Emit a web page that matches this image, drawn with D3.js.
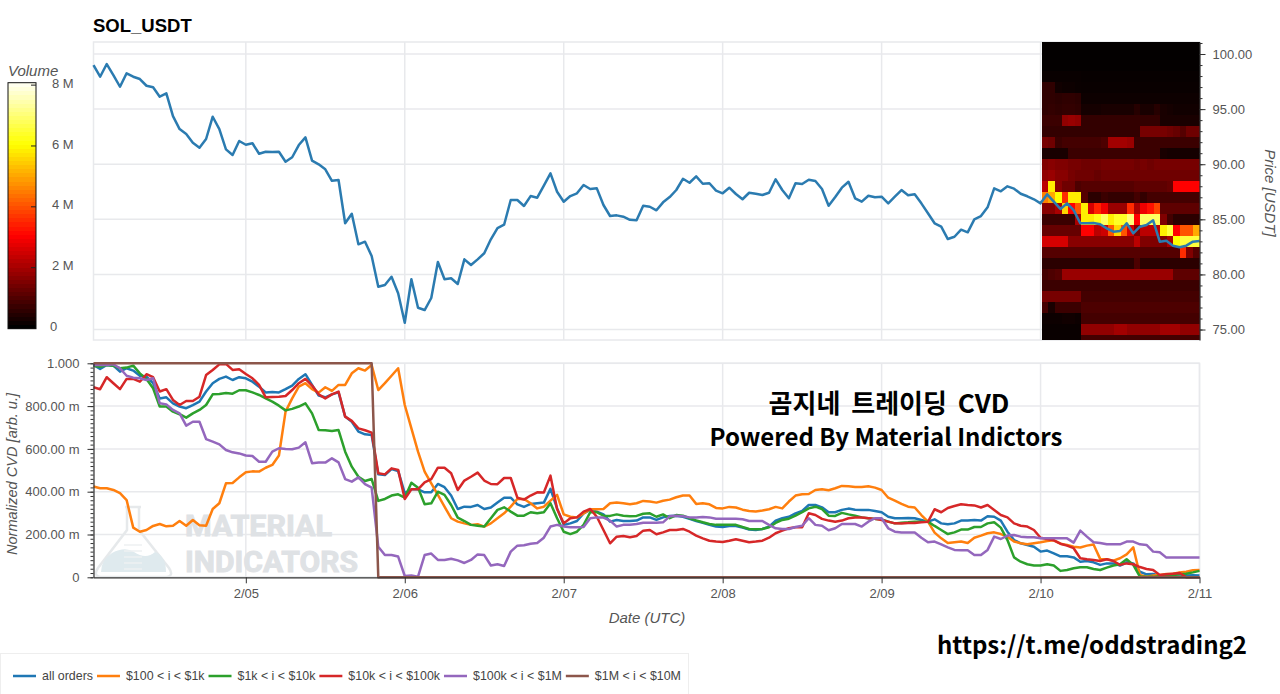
<!DOCTYPE html>
<html>
<head>
<meta charset="utf-8">
<script src="https://cdn.jsdelivr.net/npm/d3@7"></script>
<style>
  body { margin: 0; background: #fff; }
  text { font-family: "Liberation Sans", Arial, sans-serif; }
  .tick text { font-size: 13px; fill: #555; }
  .axis-title { font-size: 15px; font-style: italic; fill: #555; }
  .overlay { font-family: "Noto Sans CJK KR", "Noto Sans", sans-serif; font-weight: 700; fill: #000; }
</style>
</head>
<body>
<svg id="chart" width="1280" height="694"></svg>
<script>
// hourly samples, first one is 2/04 01:00 UTC
const price = [99.00,97.94,99.09,98.09,97.03,98.25,97.94,97.73,97.12,96.98,96.13,96.43,94.37,93.19,92.74,91.95,91.50,92.29,94.31,93.19,91.35,90.84,92.11,91.77,
  91.90,90.95,91.13,91.11,91.13,90.23,90.63,91.74,92.44,90.32,89.99,89.54,88.50,88.57,84.64,85.51,82.73,82.97,81.67,78.88,79.04,79.79,78.29,75.62,
  79.56,76.98,76.77,77.86,81.13,79.56,79.65,79.13,81.37,80.85,81.37,81.92,83.19,84.21,84.51,86.75,86.75,86.21,87.11,86.96,88.05,89.17,87.50,86.60,
  87.11,87.36,88.11,87.75,87.81,86.30,85.30,85.36,85.24,84.96,84.91,86.23,86.14,85.82,86.54,87.02,87.66,88.68,88.32,88.90,88.23,88.27,87.60,87.36,
  87.87,87.30,86.82,87.41,87.32,87.21,87.41,88.63,87.66,86.91,88.27,88.20,88.59,88.48,87.75,86.23,87.02,87.87,88.41,86.91,86.60,87.14,87.00,87.05,
  86.45,87.05,87.66,87.18,87.27,86.45,85.55,84.64,84.33,83.21,83.42,84.06,83.82,85.00,85.30,86.09,87.81,87.54,87.99,87.78,87.32,87.09,86.82,86.45,
  87.27,86.60,85.94,86.45,85.84,84.64,84.64,84.67,84.55,84.18,83.88,83.94,84.64,83.73,84.33,84.48,84.91,82.97,83.06,82.61,82.46,82.61,82.97,83.03];

const allOrders = [.992,.974,.992,.989,.961,.977,.966,.942,.938,.907,.836,.841,.813,.798,.790,.805,.821,.868,.907,.927,.938,.922,.935,.930,
  .914,.891,.864,.866,.864,.879,.896,.927,.949,.899,.849,.841,.855,.864,.751,.727,.681,.668,.665,.481,.478,.506,.497,.393,
  .411,.411,.397,.397,.436,.421,.382,.319,.330,.329,.338,.319,.326,.350,.372,.372,.341,.329,.343,.346,.349,.413,.322,.245,
  .252,.263,.299,.315,.307,.294,.260,.268,.263,.263,.265,.280,.280,.268,.280,.287,.288,.283,.273,.263,.255,.245,.237,.235,
  .240,.240,.232,.223,.221,.226,.237,.265,.276,.283,.299,.310,.338,.338,.327,.304,.304,.315,.321,.316,.315,.315,.310,.304,
  .283,.276,.276,.277,.276,.268,.260,.271,.252,.248,.252,.265,.265,.268,.265,.285,.283,.265,.213,.174,.159,.151,.143,.120,
  .125,.112,.098,.098,.093,.073,.076,.070,.058,.065,.065,.055,.070,.065,.026,.014,.016,.008,.011,.011,.014,.008,.009,.008];

const size100to1k = [.424,.416,.416,.408,.393,.361,.232,.213,.221,.240,.249,.238,.241,.263,.241,.268,.243,.241,.319,.346,.439,.441,.467,.491,
  .495,.494,.512,.525,.569,.774,.836,.891,.907,.879,.863,.888,.871,.899,.899,.953,.977,.966,.992,.875,.907,.942,.977,.805,
  .696,.587,.494,.439,.385,.330,.276,.260,.252,.245,.248,.237,.252,.276,.299,.330,.366,.366,.346,.322,.330,.358,.385,.294,
  .283,.280,.299,.318,.318,.319,.346,.349,.346,.341,.346,.357,.354,.349,.358,.363,.374,.382,.382,.343,.346,.341,.324,.322,
  .329,.326,.316,.310,.308,.312,.318,.329,.322,.354,.382,.388,.389,.408,.411,.407,.416,.427,.425,.422,.422,.425,.419,.408,
  .372,.358,.343,.330,.326,.291,.260,.209,.182,.160,.164,.167,.160,.185,.195,.206,.210,.202,.190,.167,.159,.154,.159,.164,
  .170,.173,.157,.151,.143,.139,.148,.153,.086,.084,.078,.089,.107,.140,.011,.003,.008,.011,.016,.017,.022,.026,.033,.034];

const size1kto10k = [.989,.984,.992,.988,.977,.980,.989,.953,.927,.883,.798,.798,.774,.762,.746,.766,.782,.805,.855,.857,.861,.858,.874,.874,
  .864,.852,.836,.821,.802,.780,.787,.798,.813,.766,.688,.687,.684,.688,.587,.517,.470,.450,.459,.357,.366,.382,.388,.372,
  .442,.419,.341,.346,.400,.385,.338,.279,.263,.245,.241,.237,.276,.315,.327,.307,.288,.288,.304,.299,.304,.346,.276,.213,
  .202,.213,.245,.304,.304,.288,.287,.294,.288,.285,.287,.297,.299,.283,.294,.276,.291,.288,.276,.266,.257,.249,.245,.245,
  .245,.245,.235,.226,.224,.226,.234,.254,.268,.274,.288,.304,.322,.330,.319,.288,.287,.301,.294,.288,.280,.276,.273,.271,
  .260,.252,.255,.257,.260,.260,.260,.240,.221,.202,.210,.223,.223,.235,.235,.252,.257,.232,.174,.093,.073,.061,.055,.055,
  .061,.055,.030,.034,.042,.047,.047,.039,.034,.045,.055,.061,.084,.058,.003,.003,.002,.005,.008,.011,.014,.017,.023,.030];

const size10kto100k = [.888,.879,.935,.907,.879,.927,.927,.914,.949,.935,.868,.879,.829,.805,.824,.824,.844,.945,.969,.995,.997,.969,.972,.950,
  .930,.899,.841,.843,.844,.847,.875,.907,.927,.896,.855,.836,.855,.868,.751,.731,.696,.687,.676,.486,.481,.509,.502,.366,
  .411,.411,.444,.459,.512,.512,.486,.408,.452,.470,.489,.452,.436,.435,.464,.464,.372,.363,.382,.397,.396,.475,.319,.252,
  .276,.280,.307,.319,.283,.221,.159,.190,.193,.187,.193,.218,.221,.201,.210,.221,.221,.226,.213,.195,.182,.171,.167,.165,
  .171,.178,.171,.164,.167,.171,.185,.206,.218,.229,.234,.234,.299,.291,.273,.265,.260,.265,.276,.279,.279,.276,.273,.268,
  .260,.252,.251,.254,.254,.257,.259,.318,.304,.324,.333,.341,.338,.336,.326,.338,.315,.291,.280,.252,.241,.237,.221,.185,
  .179,.173,.157,.148,.136,.089,.084,.081,.076,.084,.076,.058,.065,.061,.048,.039,.034,.011,.014,.017,.020,0,0,0];

const size100kto1M = [.992,.992,.992,.995,.977,.942,.933,.930,.922,.930,.813,.808,.782,.766,.709,.727,.727,.646,.634,.621,.595,.584,.579,.569,
  .567,.540,.540,.587,.603,.600,.598,.606,.631,.533,.536,.536,.556,.537,.459,.447,.467,.435,.419,.143,.104,.104,.097,.006,
  .008,.003,.104,.111,.081,.081,.087,.079,.067,.081,.107,.104,.055,.061,.053,.120,.148,.150,.157,.160,.185,.237,.245,.237,
  .234,.234,.235,.276,.280,.279,.265,.237,.245,.246,.249,.255,.255,.255,.257,.285,.288,.285,.280,.280,.282,.280,.274,.274,
  .274,.274,.271,.263,.263,.263,.245,.229,.226,.226,.235,.241,.276,.245,.241,.220,.229,.249,.249,.249,.237,.260,.276,.276,
  .229,.213,.209,.209,.209,.185,.164,.167,.154,.140,.128,.126,.126,.104,.104,.128,.190,.179,.195,.198,.190,.187,.187,.182,
  .182,.182,.182,.182,.162,.218,.190,.164,.160,.154,.154,.154,.167,.167,.154,.151,.120,.117,.092,.092,.092,.092,.092,.092];

const size1Mto10M = [1,1,1,1,1,1,1,1,1,1,1,1,1,1,1,1,1,1,1,1,1,1,1,1,
  1,1,1,1,1,1,1,1,1,1,1,1,1,1,1,1,1,1,1,0,0,0,0,0,
  0,0,0,0,0,0,0,0,0,0,0,0,0,0,0,0,0,0,0,0,0,0,0,0,
  0,0,0,0,0,0,0,0,0,0,0,0,0,0,0,0,0,0,0,0,0,0,0,0,
  0,0,0,0,0,0,0,0,0,0,0,0,0,0,0,0,0,0,0,0,0,0,0,0,
  0,0,0,0,0,0,0,0,0,0,0,0,0,0,0,0,0,0,0,0,0,0,0,0,
  0,0,0,0,0,0,0,0,0,0,0,0,0,0,0,0,0,0,0,0,0,0,0,0];

const seriesNames = ["all orders", "$100 < i < $1k", "$1k < i < $10k", "$10k < i < $100k", "$100k < i < $1M", "$1M < i < $10M"];
const seriesValues = [allOrders, size100to1k, size1kto10k, size10kto100k, size100kto1M, size1Mto10M];
const seriesColors = ["#1f77b4", "#ff7f0e", "#2ca02c", "#d62728", "#9467bd", "#8c564b"];

// resting volume in millions, one row per $1 price bin, one column per hour of 2/10
const heatPrices = [101,100,99,98,97,96,95,94,93,92,91,90,89,88,87,86,85,84,83,82,81,80,79,78,77,76,75,74];
const heatVolume = [
  [.03,.03,.03,.03,.03,.03,.03,.03,.03,.03,.03,.03,.03,.03,.03,.03,.03,.03,.03,.03,.03,.03,.03,.03],
  [.04,.04,.04,.04,.04,.04,.04,.04,.04,.04,.04,.04,.04,.04,.04,.04,.04,.04,.04,.04,.04,.04,.04,.04],
  [.05,.05,.05,.05,.05,.05,.05,.05,.05,.05,.05,.05,.05,.05,.05,.05,.05,.05,.05,.05,.05,.05,.05,.05],
  [.1,.1,.1,.1,.1,.1,.08,.08,.08,.08,.08,.08,.08,.08,.08,.08,.08,.08,.08,.08,.08,.08,.08,.08],
  [.55,.55,.2,.15,.15,.12,.1,.1,.1,.1,.1,.1,.1,.1,.1,.1,.1,.1,.1,.1,.1,.1,.1,.1],
  [.55,.55,.5,.55,.55,.5,.15,.15,.15,.15,.15,.15,.15,.15,.15,.15,.15,.15,.15,.15,.15,.15,.15,.15],
  [.55,.6,.55,.6,.6,.55,.25,.25,.25,.3,.3,.3,.3,.3,.45,.3,.3,.45,.3,.25,.2,.2,.2,.2],
  [.7,.7,.7,1.7,1.8,1.7,.6,.6,.6,.6,.6,.6,.6,.6,.6,.6,.6,.6,.3,.3,.3,.3,.3,.3],
  [.6,.6,.6,.6,.6,.6,.6,.6,.6,.6,.6,.6,.6,.6,.6,1.4,1.4,1.4,1.4,1.3,1.2,1.0,1.3,1.3],
  [1.4,1.3,.7,.8,.8,.8,.8,.8,.8,.9,1.9,1.9,1.9,1.8,.7,.7,.7,.7,.7,.7,.7,.7,.7,.7],
  [.3,.3,.3,.3,.7,.7,.7,.7,.7,.7,.7,.7,.7,.7,.7,.7,.7,.7,.3,.25,.25,.25,.25,.25],
  [1.5,1.6,1.5,1.5,1.4,1.4,1.3,1.3,1.3,1.4,1.4,1.4,1.4,1.4,1.3,1.4,1.3,1.4,1.4,1.4,1.4,1.4,1.4,1.4],
  [1.7,1.8,1.6,1.6,1.4,1.3,1.3,1.3,1.2,1.3,1.3,1.3,1.3,1.3,1.3,1.3,1.3,1.3,1.3,1.3,1.3,1.3,1.3,1.3],
  [2.2,5.8,1.6,1.3,1.3,.9,1.0,1.0,1.0,1.0,1.0,1.0,1.0,1.0,1.1,1.1,1.1,1.1,1.1,1.2,3.0,3.0,3.0,3.0],
  [4.5,5.0,6.0,3.5,5.8,5.8,1.0,.5,.5,.7,.6,.6,.6,.6,.8,.6,.8,.8,.8,.8,.8,.8,.8,.8],
  [1.6,1.6,2.0,5.5,3.0,4.0,5.8,2.5,3.4,2.8,1.8,1.8,1.8,3.5,2.0,2.8,3.2,3.8,1.1,1.1,1.1,1.1,1.1,1.1],
  [.7,.7,.7,.7,.7,2.0,5.8,5.8,6.2,6.8,5.8,6.3,6.3,7.0,3.0,6.8,6.8,6.8,1.5,.8,.5,.5,.5,.5],
  [1.2,1.2,1.2,1.2,1.2,1.2,3.0,3.0,2.2,2.4,4.0,5.5,4.0,2.5,1.5,2.2,2.2,2.2,5.8,6.5,3.0,4.0,4.0,5.0],
  [2.5,2.5,2.5,2.5,1.6,1.6,1.6,1.6,1.6,1.6,1.6,1.6,1.6,1.6,2.2,1.5,1.5,1.5,1.5,2.0,6.0,6.5,6.5,6.5],
  [1.0,1.0,1.0,1.0,1.0,1.0,1.0,1.0,1.0,1.0,1.0,1.0,1.0,1.0,1.0,1.0,1.0,1.0,1.0,1.0,1.0,3.5,1.5,1.0],
  [.5,.5,.5,.5,.5,.5,.5,.5,.5,.5,.5,.5,.5,.5,.9,.5,.5,.5,.5,.5,.5,.5,.5,.5],
  [.8,.9,1.0,1.8,1.8,1.8,1.8,1.8,1.8,1.8,1.8,1.8,1.8,1.8,1.8,1.8,1.8,1.8,1.8,1.8,1.1,1.1,1.1,1.1],
  [.7,.7,.7,.7,.7,.7,.7,.7,.7,.7,.7,.7,.7,.7,.7,.7,.7,.7,.7,.7,.7,.7,.7,.7],
  [1.4,1.4,1.4,1.4,1.4,1.4,.8,.8,.8,.8,.8,.8,.8,.8,.8,.8,.8,.8,.8,.8,.8,.8,.8,.8],
  [.8,.3,.7,.7,.7,.7,.9,.9,.9,.9,.9,.9,.9,.9,.9,.9,.9,.9,.9,.9,.9,.9,.9,.9],
  [.15,.15,.15,.2,.2,.15,.8,.8,.8,.8,.8,.8,.8,.8,.8,.8,.8,.8,.8,.8,.8,.8,.8,.8],
  [.1,.1,.1,.1,.1,.1,1.7,1.7,1.7,1.7,1.7,1.9,1.9,1.7,1.7,1.7,1.7,1.7,1.9,1.9,1.9,1.7,1.7,1.7],
  [.1,.1,.1,.1,.1,.1,.8,.8,.8,.8,.8,.8,.8,.8,.8,.8,.8,.8,.8,.8,.8,.8,.8,.8]
];

const priceTicks = [100, 95, 90, 85, 80, 75];
const cvdTicks = [1, .8, .6, .4, .2, 0];
const cvdTickLabels = ["1.000", "800.00 m", "600.00 m", "400.00 m", "200.00 m", "0"];
const dateTicks = ["2/05", "2/06", "2/07", "2/08", "2/09", "2/10", "2/11"];
const volumeTicks = [0, 2, 4, 6, 8];
const volumeTickLabels = ["0", "2 M", "4 M", "6 M", "8 M"];

// layout
const left = 93.5, right = 1199.5;
const topPlot = {top: 42, bottom: 340};
const cvdPlot = {top: 363.3, bottom: 577.3};
const gridColor = "#e8e9ec";

const svg = d3.select("svg#chart");

const start = new Date(Date.UTC(2026, 1, 4, 1));
const end = new Date(Date.UTC(2026, 1, 11, 0));
const times = price.map((d, i) => d3.utcHour.offset(start, i));
const dayDates = dateTicks.map((d, i) => new Date(Date.UTC(2026, 1, 5 + i)));

const x = d3.scaleUtc().domain([start, end]).range([left, right]);
const yPrice = d3.scaleLinear().domain([74.05, 101.09]).range([topPlot.bottom, topPlot.top]);
const yCvd = d3.scaleLinear().domain([0, 1]).range([cvdPlot.bottom, cvdPlot.top]);
const yBar = d3.scaleLinear().domain([0, 8.08]).range([328.5, 82.7]);

// black -> red -> yellow -> white
const heatColor = d3.scaleLinear().domain([0, 3, 6, 8.08]).range(["#000000", "#ff0000", "#ffff00", "#ffffff"]).clamp(true);

function frame(plot, yScale, yVals) {
  const g = svg.append("g").attr("fill", "none").attr("stroke", gridColor).attr("stroke-width", 1.5);
  g.append("rect").attr("x", left).attr("y", plot.top).attr("width", right - left).attr("height", plot.bottom - plot.top);
  g.selectAll("line.h").data(yVals).join("line").attr("class", "h")
    .attr("x1", left).attr("x2", right).attr("y1", d => yScale(d)).attr("y2", d => yScale(d));
  g.selectAll("line.v").data(dayDates).join("line").attr("class", "v")
    .attr("y1", plot.top).attr("y2", plot.bottom).attr("x1", d => x(d)).attr("x2", d => x(d));
}
frame(topPlot, yPrice, priceTicks);
frame(cvdPlot, yCvd, cvdTicks);

// watermark sits under the lines
const mark = svg.append("g");
mark.append("path")
  .attr("d", "M125 507 L141 507 M127 507 L127 530 L98 568 Q92 577 103 577 L164 577 Q175 577 169 568 L139 530 L139 507")
  .attr("fill", "none").attr("stroke", "#e6e9eb").attr("stroke-width", 2.5);
mark.append("path")
  .attr("d", "M101 572 Q101 560 112 553 Q125 546 134 552 Q146 560 155 552 Q166 556 166 572 Z")
  .attr("fill", "#dfeaee");
mark.selectAll("line").data([0, 1, 2, 3, 4]).join("line")
  .attr("x1", 124).attr("x2", 142).attr("y1", d => 545 + d * 6).attr("y2", d => 545 + d * 6)
  .attr("stroke", "#eef1f2").attr("stroke-width", 1.5);
mark.selectAll("text").data(["MATERIAL", "INDICATORS"]).join("text")
  .attr("x", 185).attr("y", (d, i) => 536 + i * 36)
  .attr("textLength", (d, i) => i ? 173 : 147).attr("lengthAdjust", "spacingAndGlyphs")
  .style("font-family", "Roboto, sans-serif").style("font-weight", 700).style("font-size", "30px")
  .attr("stroke", "#dfe2e5").attr("stroke-width", 1)
  .attr("fill", "#dfe2e5").text(d => d);

// heatmap
const heatStart = d3.utcMinute.offset(dayDates[5], 12);
const heatX = d3.scaleBand().domain(d3.range(24)).range([x(heatStart), right]);
const rowTop = p => Math.max(yPrice(p + .5), topPlot.top);
const rowBottom = p => Math.min(yPrice(p - .5), topPlot.bottom);
svg.append("g").attr("shape-rendering", "crispEdges")
  .selectAll("g").data(heatPrices).join("g")
  .each(function (p, r) {
    d3.select(this).selectAll("rect").data(heatVolume[r]).join("rect")
      .attr("x", (d, c) => heatX(c)).attr("width", heatX.bandwidth() + .5)
      .attr("y", rowTop(p)).attr("height", rowBottom(p) - rowTop(p))
      .attr("fill", d => heatColor(d));
  });

// price line
svg.append("path")
  .attr("fill", "none").attr("stroke", "#2b7bb0").attr("stroke-width", 2.5).attr("stroke-linejoin", "round")
  .attr("d", d3.line().x((d, i) => x(times[i])).y(d => yPrice(d))(price));

// cvd lines
svg.append("g").selectAll("path").data(seriesValues).join("path")
  .attr("fill", "none").attr("stroke-width", 2.5).attr("stroke-linejoin", "round")
  .attr("stroke", (d, i) => seriesColors[i])
  .attr("d", d3.line().x((d, i) => x(times[i])).y(d => yCvd(d)));

// axes: a minor pass with no labels, then the major pass
function minorTicks(g) {
  g.selectAll(".tick text").remove();
  g.select(".domain").remove();
  g.selectAll(".tick line").attr("stroke", "#333");
}
function majorTicks(g) {
  g.selectAll(".tick line").attr("stroke", "#333");
  g.select(".domain").attr("stroke", "#333").attr("stroke-width", 1.2);
}

svg.append("g").attr("transform", `translate(${right},0)`)
  .call(d3.axisRight(yPrice).tickValues(d3.range(75, 102)).tickSize(3).tickSizeOuter(0)).call(minorTicks);
svg.append("g").attr("transform", `translate(${right},0)`)
  .call(d3.axisRight(yPrice).tickValues(priceTicks).tickSize(6).tickSizeOuter(0).tickPadding(7).tickFormat(d3.format(".2f"))).call(majorTicks);

svg.append("g").attr("transform", `translate(${left},0)`)
  .call(d3.axisLeft(yCvd).tickValues(d3.range(0, 51).map(d => d / 50)).tickSize(3).tickSizeOuter(0)).call(minorTicks);
svg.append("g").attr("transform", `translate(${left},0)`)
  .call(d3.axisLeft(yCvd).tickValues(cvdTicks).tickSize(6).tickSizeOuter(0).tickPadding(8).tickFormat((d, i) => cvdTickLabels[i])).call(majorTicks);

svg.append("g").attr("transform", `translate(0,${cvdPlot.bottom})`)
  .call(d3.axisBottom(x).tickValues(dayDates).tickSize(6).tickSizeOuter(0).tickPadding(5).tickFormat((d, i) => dateTicks[i])).call(majorTicks);

// axis titles
svg.append("text").attr("class", "axis-title").attr("text-anchor", "middle")
  .attr("transform", "translate(1265,193) rotate(90)").text("Price [USDT]");
svg.append("text").attr("class", "axis-title").attr("text-anchor", "middle")
  .attr("transform", "translate(17,474) rotate(-90)").style("font-size", "14.6px").text("Normalized CVD [arb. u.]");
svg.append("text").attr("class", "axis-title").attr("text-anchor", "middle")
  .attr("x", 647).attr("y", 623).text("Date (UTC)");

svg.append("text").attr("x", 93).attr("y", 32)
  .style("font-size", "18.5px").style("font-weight", 700).attr("fill", "#000").text("SOL_USDT");

// colour bar
const barSteps = d3.range(0, 8.08, 8.08 / 60);
svg.append("g").attr("shape-rendering", "crispEdges")
  .selectAll("rect").data(barSteps).join("rect")
  .attr("x", 8).attr("width", 28)
  .attr("y", d => yBar(d + 8.08 / 60)).attr("height", d => yBar(d) - yBar(d + 8.08 / 60) + .5)
  .attr("fill", d => heatColor(d));
svg.append("rect").attr("x", 8).attr("y", 82.7).attr("width", 28).attr("height", 246)
  .attr("fill", "none").attr("stroke", "#111");
svg.append("g").selectAll("line").data(volumeTicks.slice(1)).join("line")
  .attr("x1", 31).attr("x2", 36).attr("y1", d => yBar(d)).attr("y2", d => yBar(d)).attr("stroke", "#222");
svg.append("g").selectAll("text").data(volumeTicks).join("text")
  .attr("x", (d, i) => i ? 52 : 50).attr("y", d => yBar(d) - 2).attr("dy", ".35em")
  .style("font-size", "13px").attr("fill", "#555").text((d, i) => volumeTickLabels[i]);
svg.append("text").attr("class", "axis-title").attr("x", 8).attr("y", 76).text("Volume");

// legend
svg.append("rect").attr("x", .5).attr("y", 653.5).attr("width", 688).attr("height", 45)
  .attr("fill", "#fff").attr("stroke", "#eeeeee");
let legendX = 13;
seriesNames.forEach((name, i) => {
  svg.append("line").attr("x1", legendX).attr("x2", legendX + 23).attr("y1", 676).attr("y2", 676)
    .attr("stroke", seriesColors[i]).attr("stroke-width", 2.5);
  const t = svg.append("text").attr("x", legendX + 29).attr("y", 680)
    .style("font-size", "12.4px").attr("fill", "#444").text(name);
  legendX += 29 + t.node().getComputedTextLength() + 4;
});

// captions pasted over the chart
svg.append("text").attr("class", "overlay").attr("x", 889).attr("y", 413).attr("text-anchor", "middle")
  .style("font-size", "26px").style("word-spacing", "5px").text("곰지네 트레이딩 CVD");
svg.append("text").attr("class", "overlay").attr("x", 886).attr("y", 446).attr("text-anchor", "middle")
  .style("font-size", "24px").text("Powered By Material Indictors");
svg.append("text").attr("class", "overlay").attr("x", 1092).attr("y", 654).attr("text-anchor", "middle")
  .style("font-size", "24px").text("https://t.me/oddstrading2");
</script>
</body>
</html>
